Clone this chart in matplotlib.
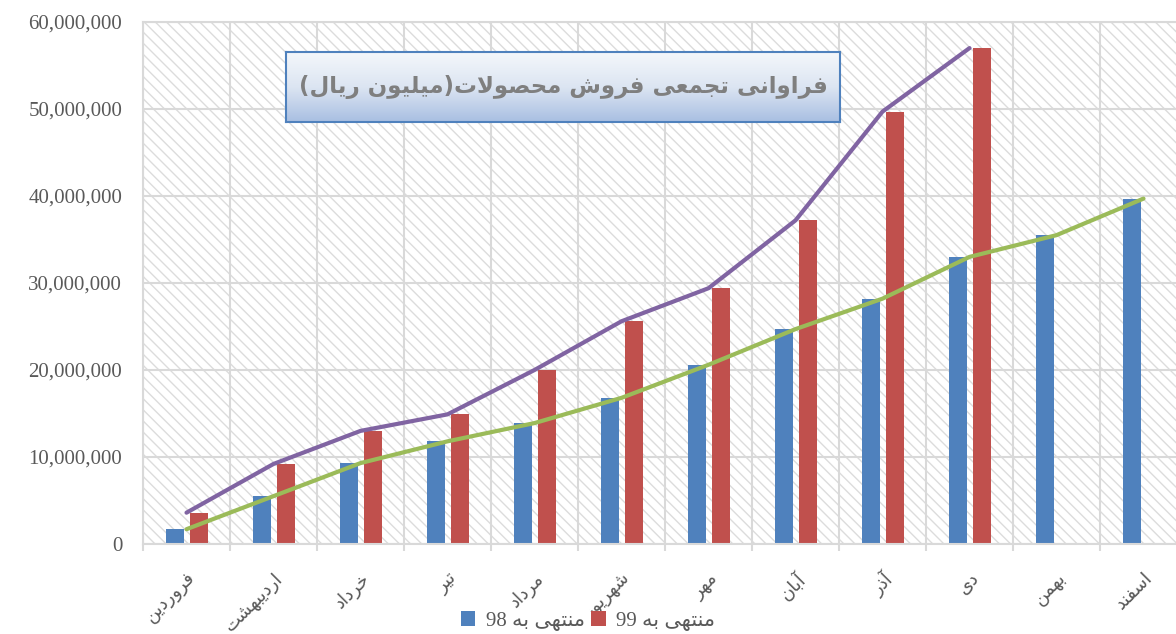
import re

import matplotlib
import numpy as np

matplotlib.use("Agg")
import matplotlib.pyplot as plt
from matplotlib.colors import LinearSegmentedColormap
from matplotlib.patches import Rectangle
from matplotlib.ticker import FuncFormatter, MultipleLocator


MONTHS = ["فروردین", "اردیبهشت", "خرداد", "تیر", "مرداد", "شهریور",
          "مهر", "آبان", "آذر", "دی", "بهمن", "اسفند"]

# cumulative sales, million rial
SALES_98 = [1.7e6, 5.5e6, 9.3e6, 11.8e6, 13.9e6, 16.8e6,
            20.6e6, 24.7e6, 28.2e6, 33.0e6, 35.5e6, 39.7e6]
SALES_99 = [3.6e6, 9.2e6, 13.0e6, 14.9e6, 20.0e6, 25.6e6,
            29.4e6, 37.2e6, 49.7e6, 57.0e6]

LABEL_98 = "منتهی به 98"
LABEL_99 = "منتهی به 99"
TITLE = "فراوانی تجمعی فروش محصولات(میلیون ریال)"

BLUE = "#4F81BD"
RED = "#C0504D"
GREEN = "#9BBB59"
PURPLE = "#8064A2"
GRID = "#D9D9D9"
TEXT = "#595959"


# --- minimal persian shaping (matplotlib has no bidi / joining) ---
FORMS = {
    "ا": ("\uFE8D", "\uFE8E", None, None),
    "آ": ("\uFE81", "\uFE82", None, None),
    "د": ("\uFEA9", "\uFEAA", None, None),
    "ذ": ("\uFEAB", "\uFEAC", None, None),
    "ر": ("\uFEAD", "\uFEAE", None, None),
    "و": ("\uFEED", "\uFEEE", None, None),
    "ب": ("\uFE8F", "\uFE90", "\uFE91", "\uFE92"),
    "ت": ("\uFE95", "\uFE96", "\uFE97", "\uFE98"),
    "ج": ("\uFE9D", "\uFE9E", "\uFE9F", "\uFEA0"),
    "ح": ("\uFEA1", "\uFEA2", "\uFEA3", "\uFEA4"),
    "خ": ("\uFEA5", "\uFEA6", "\uFEA7", "\uFEA8"),
    "س": ("\uFEB1", "\uFEB2", "\uFEB3", "\uFEB4"),
    "ش": ("\uFEB5", "\uFEB6", "\uFEB7", "\uFEB8"),
    "ص": ("\uFEB9", "\uFEBA", "\uFEBB", "\uFEBC"),
    "ع": ("\uFEC9", "\uFECA", "\uFECB", "\uFECC"),
    "ف": ("\uFED1", "\uFED2", "\uFED3", "\uFED4"),
    "ل": ("\uFEDD", "\uFEDE", "\uFEDF", "\uFEE0"),
    "م": ("\uFEE1", "\uFEE2", "\uFEE3", "\uFEE4"),
    "ن": ("\uFEE5", "\uFEE6", "\uFEE7", "\uFEE8"),
    "ه": ("\uFEE9", "\uFEEA", "\uFEEB", "\uFEEC"),
    "ی": ("\uFBFC", "\uFBFD", "\uFBFE", "\uFBFF"),
}


def dual(c):
    return c in FORMS and FORMS[c][2] is not None


def shape(text):
    out = []
    i = 0
    n = len(text)
    while i < n:
        c = text[i]
        if c not in FORMS:
            out.append(c)
            i += 1
            continue
        joins_prev = i > 0 and dual(text[i - 1])
        # lam + alef ligature
        if c == "ل" and i + 1 < n and text[i + 1] == "ا":
            out.append("\uFEFC" if joins_prev else "\uFEFB")
            i += 2
            continue
        joins_next = dual(c) and i + 1 < n and text[i + 1] in FORMS
        iso, fin, ini, med = FORMS[c]
        if joins_prev and joins_next:
            out.append(med)
        elif joins_prev:
            out.append(fin)
        elif joins_next:
            out.append(ini)
        else:
            out.append(iso)
        i += 1
    vis = "".join(out)[::-1]
    vis = vis.translate(str.maketrans("()", ")("))
    # digits keep left-to-right order
    vis = re.sub(r"\d+", lambda m: m.group(0)[::-1], vis)
    return vis


plt.rcParams["font.family"] = ["Liberation Serif", "DejaVu Sans"]
plt.rcParams["hatch.linewidth"] = 1.0

fig = plt.figure(figsize=(11.76, 6.34), dpi=100)
ax = fig.add_axes([143 / 1176, 90 / 634, 1044 / 1176, 522 / 634])

x = np.arange(len(MONTHS))
x99 = np.arange(len(SALES_99))
w = 0.207

ax.add_patch(Rectangle((0, 0), 1, 1, transform=ax.transAxes, facecolor="white",
                       edgecolor="#DCDCDC", hatch="\\\\\\", linewidth=0, zorder=0))

ax.bar(x - 0.135, SALES_98, width=w, color=BLUE, zorder=2, label=shape(LABEL_98))
ax.bar(x99 + 0.14, SALES_99, width=w, color=RED, zorder=2, label=shape(LABEL_99))
ax.plot(x, SALES_98, color=GREEN, linewidth=3, zorder=3, solid_capstyle="round")
ax.plot(x99, SALES_99, color=PURPLE, linewidth=3, zorder=3, solid_capstyle="round")

ax.set_xlim(-0.5, len(MONTHS) - 0.5)
ax.set_ylim(0, 60e6)
ax.yaxis.set_major_locator(MultipleLocator(10e6))
ax.yaxis.set_major_formatter(FuncFormatter(lambda v, p: f"{v:,.0f}"))
ax.set_xticks(x)
ax.set_xticklabels([shape(m) for m in MONTHS], rotation=45, ha="right",
                   rotation_mode="anchor", family="DejaVu Sans", fontsize=13, color=TEXT)
ax.set_xticks(np.arange(-0.5, len(MONTHS)), minor=True)

ax.set_axisbelow(True)
ax.grid(axis="y", which="major", color=GRID, linewidth=1.5)
ax.grid(axis="x", which="minor", color=GRID, linewidth=1.5)
ax.tick_params(axis="x", which="major", length=0, pad=18)
ax.tick_params(axis="x", which="minor", length=5, color=GRID, width=1.5)
ax.tick_params(axis="y", length=0, pad=15, labelsize=15, labelcolor=TEXT)
for side in ["left", "bottom", "top", "right"]:
    ax.spines[side].set_color(GRID)
    ax.spines[side].set_linewidth(1.5)

fig.legend(loc="center", bbox_to_anchor=(588 / 1176, 1 - 621 / 634), ncol=2,
           frameon=False, fontsize=15, labelcolor=TEXT, handlelength=0.7,
           handleheight=0.7, handletextpad=0.5, columnspacing=0.3)

# title box with a gradient fill
tax = fig.add_axes([286 / 1176, 1 - 122 / 634, 554 / 1176, 70 / 634])
grad = LinearSegmentedColormap.from_list("g", ["#F4F7FB", "#DCE5F2", "#A9BFE2"])
tax.imshow(np.linspace(0, 1, 100).reshape(-1, 1), aspect="auto", cmap=grad,
           extent=[0, 1, 0, 1], origin="upper")
tax.set_xticks([])
tax.set_yticks([])
for s in tax.spines.values():
    s.set_color(BLUE)
    s.set_linewidth(1.5)
tax.text(0.5, 0.5, shape(TITLE), transform=tax.transAxes, ha="center", va="center",
         family="DejaVu Sans", fontweight="bold", fontsize=16.5, color="#7F7F7F")

fig.savefig("out.png", dpi=100)
